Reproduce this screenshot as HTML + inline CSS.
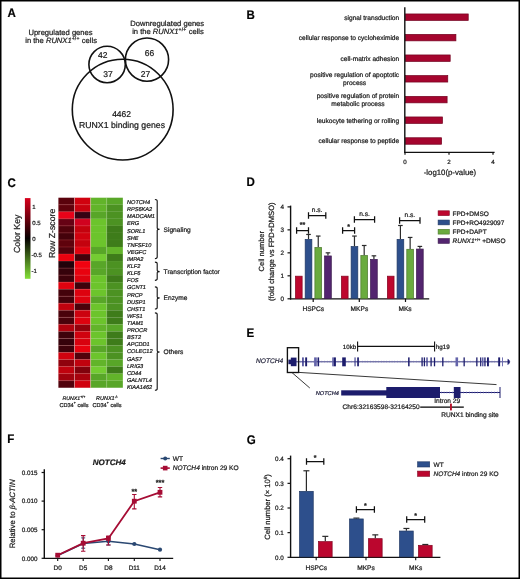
<!DOCTYPE html>
<html><head><meta charset="utf-8"><style>
html,body{margin:0;padding:0;background:#fff;}
body{width:520px;height:579px;overflow:hidden;position:relative;}
svg{position:absolute;left:0;top:0;}
svg text{font-family:"Liberation Sans",sans-serif;text-rendering:geometricPrecision;stroke:#1a1a1a;stroke-width:0.22px;}
svg{will-change:transform;}
</style></head><body>
<svg width="520" height="579" viewBox="0 0 520 579" fill="#1a1a1a">
<rect x="0" y="0" width="520" height="579" fill="#fff"/>
<text x="0.00" y="0.00" font-size="12.4" font-weight="bold" fill="#000" stroke="#000" transform="translate(7.46,17.2) scale(0.93,1)">A</text>
<text x="0.00" y="0.00" font-size="12.4" font-weight="bold" fill="#000" stroke="#000" transform="translate(246.38,18.6) scale(0.93,1)">B</text>
<text x="0.00" y="0.00" font-size="12.4" font-weight="bold" fill="#000" stroke="#000" transform="translate(7.58,186.5) scale(0.93,1)">C</text>
<text x="0.00" y="0.00" font-size="12.4" font-weight="bold" fill="#000" stroke="#000" transform="translate(246.38,186.4) scale(0.93,1)">D</text>
<text x="0.00" y="0.00" font-size="12.4" font-weight="bold" fill="#000" stroke="#000" transform="translate(246.38,337.3) scale(0.93,1)">E</text>
<text x="0.00" y="0.00" font-size="12.4" font-weight="bold" fill="#000" stroke="#000" transform="translate(7.28,443.45) scale(0.93,1)">F</text>
<text x="0.00" y="0.00" font-size="12.4" font-weight="bold" fill="#000" stroke="#000" transform="translate(246.68,443.55) scale(0.93,1)">G</text>
<text x="60.50" y="34.70" font-size="7.6" text-anchor="middle" >Upregulated genes</text>
<text x="61.10" y="43.20" font-size="7.6" text-anchor="middle" >in the <tspan font-style="italic">RUNX1</tspan><tspan font-size="5.0" dy="-3.0" letter-spacing="0.25">+/+</tspan><tspan dy="3.0"> cells</tspan></text>
<text x="167.20" y="25.90" font-size="7.6" text-anchor="middle" >Downregulated genes</text>
<text x="168.00" y="34.20" font-size="7.6" text-anchor="middle" >in the <tspan font-style="italic">RUNX1</tspan><tspan font-size="5.0" dy="-3.0" letter-spacing="0.25">+/+</tspan><tspan dy="3.0"> cells</tspan></text>
<g fill="none" stroke="#111" stroke-width="1.6">
<circle cx="107.1" cy="64.5" r="18.2"/>
<circle cx="147.0" cy="59.6" r="21.6"/>
<circle cx="122.7" cy="109.6" r="50.4"/>
</g>
<text x="102.70" y="57.80" font-size="8.5" text-anchor="middle" >42</text>
<text x="107.90" y="76.60" font-size="8.5" text-anchor="middle" >37</text>
<text x="149.60" y="56.40" font-size="8.5" text-anchor="middle" >66</text>
<text x="145.40" y="76.60" font-size="8.5" text-anchor="middle" >27</text>
<text x="121.60" y="117.30" font-size="8.5" text-anchor="middle" >4462</text>
<text x="122.00" y="127.90" font-size="8.7" text-anchor="middle" >RUNX1 binding genes</text>
<rect x="405.35" y="13.95" width="62.88" height="6.50" fill="#a5052e" stroke="#730320" stroke-width="0.7"/>
<rect x="405.35" y="34.35" width="50.56" height="6.50" fill="#a5052e" stroke="#730320" stroke-width="0.7"/>
<rect x="405.35" y="54.95" width="44.84" height="6.50" fill="#a5052e" stroke="#730320" stroke-width="0.7"/>
<rect x="405.35" y="75.55" width="42.42" height="6.50" fill="#a5052e" stroke="#730320" stroke-width="0.7"/>
<rect x="405.35" y="96.35" width="41.76" height="6.50" fill="#a5052e" stroke="#730320" stroke-width="0.7"/>
<rect x="405.35" y="116.95" width="37.14" height="6.50" fill="#a5052e" stroke="#730320" stroke-width="0.7"/>
<rect x="405.35" y="137.75" width="36.26" height="6.50" fill="#a5052e" stroke="#730320" stroke-width="0.7"/>
<text x="399.20" y="19.50" font-size="6.6" text-anchor="end" >signal transduction</text>
<text x="399.20" y="39.90" font-size="6.6" text-anchor="end" >cellular response to cycloheximide</text>
<text x="399.20" y="60.50" font-size="6.6" text-anchor="end" >cell-matrix adhesion</text>
<text x="354.62" y="77.30" font-size="6.6" text-anchor="middle" >positive regulation of apoptotic</text>
<text x="354.62" y="85.40" font-size="6.6" text-anchor="middle" >process</text>
<text x="357.93" y="98.10" font-size="6.6" text-anchor="middle" >positive regulation of protein</text>
<text x="357.93" y="106.20" font-size="6.6" text-anchor="middle" >metabolic process</text>
<text x="399.20" y="122.50" font-size="6.6" text-anchor="end" >leukocyte tethering or rolling</text>
<text x="399.20" y="143.30" font-size="6.6" text-anchor="end" >cellular response to peptide</text>
<line x1="404.80" y1="7.20" x2="404.80" y2="152.90" stroke="#111" stroke-width="1.4" />
<line x1="404.35" y1="152.30" x2="494.60" y2="152.30" stroke="#111" stroke-width="1.3" />
<line x1="405.00" y1="152.30" x2="405.00" y2="154.80" stroke="#111" stroke-width="1.2" />
<text x="405.00" y="163.60" font-size="6.2" text-anchor="middle" >0</text>
<line x1="449.00" y1="152.30" x2="449.00" y2="154.80" stroke="#111" stroke-width="1.2" />
<text x="449.00" y="163.60" font-size="6.2" text-anchor="middle" >2</text>
<line x1="493.00" y1="152.30" x2="493.00" y2="154.80" stroke="#111" stroke-width="1.2" />
<text x="493.00" y="163.60" font-size="6.2" text-anchor="middle" >4</text>
<text x="450.00" y="175.00" font-size="7.8" text-anchor="middle" >-log10(p-value)</text>
<defs><linearGradient id="ck" x1="0" y1="0" x2="0" y2="1"><stop offset="0" stop-color="#d8001c"/><stop offset="0.5" stop-color="#050000"/><stop offset="1" stop-color="#84e038"/></linearGradient></defs>
<rect x="24.90" y="198.10" width="5.60" height="80.70" fill="url(#ck)" />
<text x="32.20" y="209.40" font-size="6.0" >1</text>
<text x="32.20" y="224.70" font-size="6.0" >0.5</text>
<text x="32.20" y="240.70" font-size="6.0" >0</text>
<text x="31.40" y="256.50" font-size="6.0" >-0.5</text>
<text x="31.40" y="272.60" font-size="6.0" >-1</text>
<text x="0.00" y="0.00" font-size="8.8" text-anchor="middle" transform="translate(19.9,233.8) rotate(-90)">Color Key</text>
<text x="0.00" y="0.00" font-size="8.7" text-anchor="middle" transform="translate(54.9,233.4) rotate(-90)">Row Z-score</text>
<rect x="58.40" y="197.70" width="16.15" height="7.09" fill="#5a020c" />
<rect x="74.50" y="197.70" width="16.15" height="7.09" fill="#d0020f" />
<rect x="90.60" y="197.70" width="16.15" height="7.09" fill="#62b42a" />
<rect x="106.70" y="197.70" width="16.15" height="7.09" fill="#58a628" />
<rect x="58.40" y="204.74" width="16.15" height="7.09" fill="#5f020c" />
<rect x="74.50" y="204.74" width="16.15" height="7.09" fill="#c8020f" />
<rect x="90.60" y="204.74" width="16.15" height="7.09" fill="#62b42a" />
<rect x="106.70" y="204.74" width="16.15" height="7.09" fill="#4c9222" />
<rect x="58.40" y="211.77" width="16.15" height="7.09" fill="#e80219" />
<rect x="74.50" y="211.77" width="16.15" height="7.09" fill="#360213" />
<rect x="90.60" y="211.77" width="16.15" height="7.09" fill="#58a628" />
<rect x="106.70" y="211.77" width="16.15" height="7.09" fill="#4c9222" />
<rect x="58.40" y="218.81" width="16.15" height="7.09" fill="#660214" />
<rect x="74.50" y="218.81" width="16.15" height="7.09" fill="#d0021f" />
<rect x="90.60" y="218.81" width="16.15" height="7.09" fill="#6cc42c" />
<rect x="106.70" y="218.81" width="16.15" height="7.09" fill="#4c9222" />
<rect x="58.40" y="225.85" width="16.15" height="7.09" fill="#51020c" />
<rect x="74.50" y="225.85" width="16.15" height="7.09" fill="#c4020e" />
<rect x="90.60" y="225.85" width="16.15" height="7.09" fill="#6cc42c" />
<rect x="106.70" y="225.85" width="16.15" height="7.09" fill="#3e7c1a" />
<rect x="58.40" y="232.89" width="16.15" height="7.09" fill="#44020b" />
<rect x="74.50" y="232.89" width="16.15" height="7.09" fill="#d0020f" />
<rect x="90.60" y="232.89" width="16.15" height="7.09" fill="#6cc42c" />
<rect x="106.70" y="232.89" width="16.15" height="7.09" fill="#3e7c1a" />
<rect x="58.40" y="239.92" width="16.15" height="7.09" fill="#5f020c" />
<rect x="74.50" y="239.92" width="16.15" height="7.09" fill="#c4020e" />
<rect x="90.60" y="239.92" width="16.15" height="7.09" fill="#6cc42c" />
<rect x="106.70" y="239.92" width="16.15" height="7.09" fill="#3e7c1a" />
<rect x="58.40" y="246.96" width="16.15" height="7.09" fill="#51020c" />
<rect x="74.50" y="246.96" width="16.15" height="7.09" fill="#e0020f" />
<rect x="90.60" y="246.96" width="16.15" height="7.09" fill="#58a628" />
<rect x="106.70" y="246.96" width="16.15" height="7.09" fill="#62b42a" />
<rect x="58.40" y="254.00" width="16.15" height="7.09" fill="#e8020f" />
<rect x="74.50" y="254.00" width="16.15" height="7.09" fill="#44020b" />
<rect x="90.60" y="254.00" width="16.15" height="7.09" fill="#74cc32" />
<rect x="106.70" y="254.00" width="16.15" height="7.09" fill="#3e7c1a" />
<rect x="58.40" y="261.03" width="16.15" height="7.09" fill="#22020a" />
<rect x="74.50" y="261.03" width="16.15" height="7.09" fill="#f00210" />
<rect x="90.60" y="261.03" width="16.15" height="7.09" fill="#58a628" />
<rect x="106.70" y="261.03" width="16.15" height="7.09" fill="#4c9222" />
<rect x="58.40" y="268.07" width="16.15" height="7.09" fill="#36020b" />
<rect x="74.50" y="268.07" width="16.15" height="7.09" fill="#e8020f" />
<rect x="90.60" y="268.07" width="16.15" height="7.09" fill="#58a628" />
<rect x="106.70" y="268.07" width="16.15" height="7.09" fill="#4c9222" />
<rect x="58.40" y="275.11" width="16.15" height="7.09" fill="#3e020b" />
<rect x="74.50" y="275.11" width="16.15" height="7.09" fill="#dd020f" />
<rect x="90.60" y="275.11" width="16.15" height="7.09" fill="#6cc42c" />
<rect x="106.70" y="275.11" width="16.15" height="7.09" fill="#3e7c1a" />
<rect x="58.40" y="282.14" width="16.15" height="7.09" fill="#e0020f" />
<rect x="74.50" y="282.14" width="16.15" height="7.09" fill="#3e020b" />
<rect x="90.60" y="282.14" width="16.15" height="7.09" fill="#6cc42c" />
<rect x="106.70" y="282.14" width="16.15" height="7.09" fill="#4c9222" />
<rect x="58.40" y="289.18" width="16.15" height="7.09" fill="#44020b" />
<rect x="74.50" y="289.18" width="16.15" height="7.09" fill="#dd020f" />
<rect x="90.60" y="289.18" width="16.15" height="7.09" fill="#6cc42c" />
<rect x="106.70" y="289.18" width="16.15" height="7.09" fill="#4c9222" />
<rect x="58.40" y="296.22" width="16.15" height="7.09" fill="#44020b" />
<rect x="74.50" y="296.22" width="16.15" height="7.09" fill="#dd020f" />
<rect x="90.60" y="296.22" width="16.15" height="7.09" fill="#58a628" />
<rect x="106.70" y="296.22" width="16.15" height="7.09" fill="#4c9222" />
<rect x="58.40" y="303.26" width="16.15" height="7.09" fill="#c0020e" />
<rect x="74.50" y="303.26" width="16.15" height="7.09" fill="#4a020b" />
<rect x="90.60" y="303.26" width="16.15" height="7.09" fill="#6cc42c" />
<rect x="106.70" y="303.26" width="16.15" height="7.09" fill="#4c9222" />
<rect x="58.40" y="310.29" width="16.15" height="7.09" fill="#4a020b" />
<rect x="74.50" y="310.29" width="16.15" height="7.09" fill="#cc020f" />
<rect x="90.60" y="310.29" width="16.15" height="7.09" fill="#6cc42c" />
<rect x="106.70" y="310.29" width="16.15" height="7.09" fill="#3e7c1a" />
<rect x="58.40" y="317.33" width="16.15" height="7.09" fill="#4a020b" />
<rect x="74.50" y="317.33" width="16.15" height="7.09" fill="#dd020f" />
<rect x="90.60" y="317.33" width="16.15" height="7.09" fill="#6cc42c" />
<rect x="106.70" y="317.33" width="16.15" height="7.09" fill="#3e7c1a" />
<rect x="58.40" y="324.37" width="16.15" height="7.09" fill="#b0020e" />
<rect x="74.50" y="324.37" width="16.15" height="7.09" fill="#90020d" />
<rect x="90.60" y="324.37" width="16.15" height="7.09" fill="#62b42a" />
<rect x="106.70" y="324.37" width="16.15" height="7.09" fill="#58a628" />
<rect x="58.40" y="331.40" width="16.15" height="7.09" fill="#3e020b" />
<rect x="74.50" y="331.40" width="16.15" height="7.09" fill="#d0020f" />
<rect x="90.60" y="331.40" width="16.15" height="7.09" fill="#6cc42c" />
<rect x="106.70" y="331.40" width="16.15" height="7.09" fill="#3e7c1a" />
<rect x="58.40" y="338.44" width="16.15" height="7.09" fill="#36020b" />
<rect x="74.50" y="338.44" width="16.15" height="7.09" fill="#d8020f" />
<rect x="90.60" y="338.44" width="16.15" height="7.09" fill="#6cc42c" />
<rect x="106.70" y="338.44" width="16.15" height="7.09" fill="#3e7c1a" />
<rect x="58.40" y="345.48" width="16.15" height="7.09" fill="#3e020b" />
<rect x="74.50" y="345.48" width="16.15" height="7.09" fill="#e8020f" />
<rect x="90.60" y="345.48" width="16.15" height="7.09" fill="#58a628" />
<rect x="106.70" y="345.48" width="16.15" height="7.09" fill="#4c9222" />
<rect x="58.40" y="352.51" width="16.15" height="7.09" fill="#d0020f" />
<rect x="74.50" y="352.51" width="16.15" height="7.09" fill="#51020c" />
<rect x="90.60" y="352.51" width="16.15" height="7.09" fill="#6cc42c" />
<rect x="106.70" y="352.51" width="16.15" height="7.09" fill="#4c9222" />
<rect x="58.40" y="359.55" width="16.15" height="7.09" fill="#90020d" />
<rect x="74.50" y="359.55" width="16.15" height="7.09" fill="#c0020e" />
<rect x="90.60" y="359.55" width="16.15" height="7.09" fill="#62b42a" />
<rect x="106.70" y="359.55" width="16.15" height="7.09" fill="#58a628" />
<rect x="58.40" y="366.59" width="16.15" height="7.09" fill="#c0020e" />
<rect x="74.50" y="366.59" width="16.15" height="7.09" fill="#80020d" />
<rect x="90.60" y="366.59" width="16.15" height="7.09" fill="#74cc32" />
<rect x="106.70" y="366.59" width="16.15" height="7.09" fill="#3e7c1a" />
<rect x="58.40" y="373.63" width="16.15" height="7.09" fill="#a0020e" />
<rect x="74.50" y="373.63" width="16.15" height="7.09" fill="#a8020e" />
<rect x="90.60" y="373.63" width="16.15" height="7.09" fill="#58a628" />
<rect x="106.70" y="373.63" width="16.15" height="7.09" fill="#62b42a" />
<rect x="58.40" y="380.66" width="16.15" height="7.09" fill="#51020c" />
<rect x="74.50" y="380.66" width="16.15" height="7.09" fill="#d0020f" />
<rect x="90.60" y="380.66" width="16.15" height="7.09" fill="#58a628" />
<rect x="106.70" y="380.66" width="16.15" height="7.09" fill="#58a628" />
<line x1="58.40" y1="204.74" x2="90.60" y2="204.74" stroke="#ff8080" stroke-width="0.6" stroke-opacity="0.36"/>
<line x1="90.60" y1="204.74" x2="122.80" y2="204.74" stroke="#ffffff" stroke-width="0.5" stroke-opacity="0.04"/>
<line x1="58.40" y1="211.77" x2="90.60" y2="211.77" stroke="#ff8080" stroke-width="0.6" stroke-opacity="0.36"/>
<line x1="90.60" y1="211.77" x2="122.80" y2="211.77" stroke="#ffffff" stroke-width="0.5" stroke-opacity="0.04"/>
<line x1="58.40" y1="218.81" x2="90.60" y2="218.81" stroke="#ff8080" stroke-width="0.6" stroke-opacity="0.36"/>
<line x1="90.60" y1="218.81" x2="122.80" y2="218.81" stroke="#ffffff" stroke-width="0.5" stroke-opacity="0.04"/>
<line x1="58.40" y1="225.85" x2="90.60" y2="225.85" stroke="#ff8080" stroke-width="0.6" stroke-opacity="0.36"/>
<line x1="90.60" y1="225.85" x2="122.80" y2="225.85" stroke="#ffffff" stroke-width="0.5" stroke-opacity="0.04"/>
<line x1="58.40" y1="232.89" x2="90.60" y2="232.89" stroke="#ff8080" stroke-width="0.6" stroke-opacity="0.36"/>
<line x1="90.60" y1="232.89" x2="122.80" y2="232.89" stroke="#ffffff" stroke-width="0.5" stroke-opacity="0.04"/>
<line x1="58.40" y1="239.92" x2="90.60" y2="239.92" stroke="#ff8080" stroke-width="0.6" stroke-opacity="0.36"/>
<line x1="90.60" y1="239.92" x2="122.80" y2="239.92" stroke="#ffffff" stroke-width="0.5" stroke-opacity="0.04"/>
<line x1="58.40" y1="246.96" x2="90.60" y2="246.96" stroke="#ff8080" stroke-width="0.6" stroke-opacity="0.36"/>
<line x1="90.60" y1="246.96" x2="122.80" y2="246.96" stroke="#ffffff" stroke-width="0.5" stroke-opacity="0.04"/>
<line x1="58.40" y1="254.00" x2="90.60" y2="254.00" stroke="#ff8080" stroke-width="0.6" stroke-opacity="0.36"/>
<line x1="90.60" y1="254.00" x2="122.80" y2="254.00" stroke="#ffffff" stroke-width="0.5" stroke-opacity="0.04"/>
<line x1="58.40" y1="261.03" x2="90.60" y2="261.03" stroke="#ff8080" stroke-width="0.6" stroke-opacity="0.36"/>
<line x1="90.60" y1="261.03" x2="122.80" y2="261.03" stroke="#ffffff" stroke-width="0.5" stroke-opacity="0.04"/>
<line x1="58.40" y1="268.07" x2="90.60" y2="268.07" stroke="#ff8080" stroke-width="0.6" stroke-opacity="0.36"/>
<line x1="90.60" y1="268.07" x2="122.80" y2="268.07" stroke="#ffffff" stroke-width="0.5" stroke-opacity="0.04"/>
<line x1="58.40" y1="275.11" x2="90.60" y2="275.11" stroke="#ff8080" stroke-width="0.6" stroke-opacity="0.36"/>
<line x1="90.60" y1="275.11" x2="122.80" y2="275.11" stroke="#ffffff" stroke-width="0.5" stroke-opacity="0.04"/>
<line x1="58.40" y1="282.14" x2="90.60" y2="282.14" stroke="#ff8080" stroke-width="0.6" stroke-opacity="0.36"/>
<line x1="90.60" y1="282.14" x2="122.80" y2="282.14" stroke="#ffffff" stroke-width="0.5" stroke-opacity="0.04"/>
<line x1="58.40" y1="289.18" x2="90.60" y2="289.18" stroke="#ff8080" stroke-width="0.6" stroke-opacity="0.36"/>
<line x1="90.60" y1="289.18" x2="122.80" y2="289.18" stroke="#ffffff" stroke-width="0.5" stroke-opacity="0.04"/>
<line x1="58.40" y1="296.22" x2="90.60" y2="296.22" stroke="#ff8080" stroke-width="0.6" stroke-opacity="0.36"/>
<line x1="90.60" y1="296.22" x2="122.80" y2="296.22" stroke="#ffffff" stroke-width="0.5" stroke-opacity="0.04"/>
<line x1="58.40" y1="303.26" x2="90.60" y2="303.26" stroke="#ff8080" stroke-width="0.6" stroke-opacity="0.36"/>
<line x1="90.60" y1="303.26" x2="122.80" y2="303.26" stroke="#ffffff" stroke-width="0.5" stroke-opacity="0.04"/>
<line x1="58.40" y1="310.29" x2="90.60" y2="310.29" stroke="#ff8080" stroke-width="0.6" stroke-opacity="0.36"/>
<line x1="90.60" y1="310.29" x2="122.80" y2="310.29" stroke="#ffffff" stroke-width="0.5" stroke-opacity="0.04"/>
<line x1="58.40" y1="317.33" x2="90.60" y2="317.33" stroke="#ff8080" stroke-width="0.6" stroke-opacity="0.36"/>
<line x1="90.60" y1="317.33" x2="122.80" y2="317.33" stroke="#ffffff" stroke-width="0.5" stroke-opacity="0.04"/>
<line x1="58.40" y1="324.37" x2="90.60" y2="324.37" stroke="#ff8080" stroke-width="0.6" stroke-opacity="0.36"/>
<line x1="90.60" y1="324.37" x2="122.80" y2="324.37" stroke="#ffffff" stroke-width="0.5" stroke-opacity="0.04"/>
<line x1="58.40" y1="331.40" x2="90.60" y2="331.40" stroke="#ff8080" stroke-width="0.6" stroke-opacity="0.36"/>
<line x1="90.60" y1="331.40" x2="122.80" y2="331.40" stroke="#ffffff" stroke-width="0.5" stroke-opacity="0.04"/>
<line x1="58.40" y1="338.44" x2="90.60" y2="338.44" stroke="#ff8080" stroke-width="0.6" stroke-opacity="0.36"/>
<line x1="90.60" y1="338.44" x2="122.80" y2="338.44" stroke="#ffffff" stroke-width="0.5" stroke-opacity="0.04"/>
<line x1="58.40" y1="345.48" x2="90.60" y2="345.48" stroke="#ff8080" stroke-width="0.6" stroke-opacity="0.36"/>
<line x1="90.60" y1="345.48" x2="122.80" y2="345.48" stroke="#ffffff" stroke-width="0.5" stroke-opacity="0.04"/>
<line x1="58.40" y1="352.51" x2="90.60" y2="352.51" stroke="#ff8080" stroke-width="0.6" stroke-opacity="0.36"/>
<line x1="90.60" y1="352.51" x2="122.80" y2="352.51" stroke="#ffffff" stroke-width="0.5" stroke-opacity="0.04"/>
<line x1="58.40" y1="359.55" x2="90.60" y2="359.55" stroke="#ff8080" stroke-width="0.6" stroke-opacity="0.36"/>
<line x1="90.60" y1="359.55" x2="122.80" y2="359.55" stroke="#ffffff" stroke-width="0.5" stroke-opacity="0.04"/>
<line x1="58.40" y1="366.59" x2="90.60" y2="366.59" stroke="#ff8080" stroke-width="0.6" stroke-opacity="0.36"/>
<line x1="90.60" y1="366.59" x2="122.80" y2="366.59" stroke="#ffffff" stroke-width="0.5" stroke-opacity="0.04"/>
<line x1="58.40" y1="373.63" x2="90.60" y2="373.63" stroke="#ff8080" stroke-width="0.6" stroke-opacity="0.36"/>
<line x1="90.60" y1="373.63" x2="122.80" y2="373.63" stroke="#ffffff" stroke-width="0.5" stroke-opacity="0.04"/>
<line x1="58.40" y1="380.66" x2="90.60" y2="380.66" stroke="#ff8080" stroke-width="0.6" stroke-opacity="0.36"/>
<line x1="90.60" y1="380.66" x2="122.80" y2="380.66" stroke="#ffffff" stroke-width="0.5" stroke-opacity="0.04"/>
<line x1="74.50" y1="197.70" x2="74.50" y2="387.70" stroke="#ffffff" stroke-width="0.7" stroke-opacity="0.5"/>
<line x1="90.60" y1="197.70" x2="90.60" y2="387.70" stroke="#ffffff" stroke-width="0.7" stroke-opacity="0.5"/>
<line x1="106.70" y1="197.70" x2="106.70" y2="387.70" stroke="#ffffff" stroke-width="0.7" stroke-opacity="0.25"/>
<text x="127.00" y="204.10" font-size="5.6" font-style="italic" >NOTCH4</text>
<text x="127.00" y="211.21" font-size="5.6" font-style="italic" >RPS6KA2</text>
<text x="127.00" y="218.32" font-size="5.6" font-style="italic" >MADCAM1</text>
<text x="127.00" y="225.43" font-size="5.6" font-style="italic" >ERG</text>
<text x="127.00" y="232.54" font-size="5.6" font-style="italic" >SORL1</text>
<text x="127.00" y="239.65" font-size="5.6" font-style="italic" >SHE</text>
<text x="127.00" y="246.76" font-size="5.6" font-style="italic" >TNFSF10</text>
<text x="127.00" y="253.87" font-size="5.6" font-style="italic" >VEGFC</text>
<text x="127.00" y="260.98" font-size="5.6" font-style="italic" >IMPA2</text>
<text x="127.00" y="268.09" font-size="5.6" font-style="italic" >KLF2</text>
<text x="127.00" y="275.20" font-size="5.6" font-style="italic" >KLF6</text>
<text x="127.00" y="282.31" font-size="5.6" font-style="italic" >FOS</text>
<text x="127.00" y="289.42" font-size="5.6" font-style="italic" >GCNT1</text>
<text x="127.00" y="296.53" font-size="5.6" font-style="italic" >PRCP</text>
<text x="127.00" y="303.64" font-size="5.6" font-style="italic" >DUSP1</text>
<text x="127.00" y="310.75" font-size="5.6" font-style="italic" >CHST1</text>
<text x="127.00" y="317.86" font-size="5.6" font-style="italic" >WFS1</text>
<text x="127.00" y="324.97" font-size="5.6" font-style="italic" >TIAM1</text>
<text x="127.00" y="332.08" font-size="5.6" font-style="italic" >PROCR</text>
<text x="127.00" y="339.19" font-size="5.6" font-style="italic" >BST2</text>
<text x="127.00" y="346.30" font-size="5.6" font-style="italic" >APCDD1</text>
<text x="127.00" y="353.41" font-size="5.6" font-style="italic" >COLEC12</text>
<text x="127.00" y="360.52" font-size="5.6" font-style="italic" >GAS7</text>
<text x="127.00" y="367.63" font-size="5.6" font-style="italic" >LRIG3</text>
<text x="127.00" y="374.74" font-size="5.6" font-style="italic" >CD44</text>
<text x="127.00" y="381.85" font-size="5.6" font-style="italic" >GALNTL4</text>
<text x="127.00" y="388.96" font-size="5.6" font-style="italic" >KIAA1462</text>
<path d="M154.9 199.50 Q157.2 199.50 157.2 201.10 V228.20 Q157.2 229.20 159.6 229.20 Q157.2 229.20 157.2 230.20 V257.10 Q157.2 258.70 154.9 258.70" fill="none" stroke="#111" stroke-width="1.1"/>
<text x="163.60" y="231.50" font-size="6.6" >Signaling</text>
<path d="M154.9 262.10 Q157.2 262.10 157.2 263.70 V270.60 Q157.2 271.60 159.6 271.60 Q157.2 271.60 157.2 272.60 V278.80 Q157.2 280.40 154.9 280.40" fill="none" stroke="#111" stroke-width="1.1"/>
<text x="163.60" y="273.90" font-size="6.6" >Transcription factor</text>
<path d="M154.9 286.90 Q157.2 286.90 157.2 288.50 V296.90 Q157.2 297.90 159.6 297.90 Q157.2 297.90 157.2 298.90 V307.40 Q157.2 309.00 154.9 309.00" fill="none" stroke="#111" stroke-width="1.1"/>
<text x="163.60" y="300.20" font-size="6.6" >Enzyme</text>
<path d="M154.9 312.90 Q157.2 312.90 157.2 314.50 V351.00 Q157.2 352.00 159.6 352.00 Q157.2 352.00 157.2 353.00 V388.70 Q157.2 390.30 154.9 390.30" fill="none" stroke="#111" stroke-width="1.1"/>
<text x="163.60" y="354.30" font-size="6.6" >Others</text>
<text x="74.00" y="400.40" font-size="5.2" text-anchor="middle" ><tspan font-style="italic">RUNX1</tspan><tspan font-size="3.6" dy="-2.4">+/+</tspan></text>
<text x="74.00" y="406.60" font-size="5.6" text-anchor="middle" >CD34<tspan font-size="3.6" dy="-2.4">+</tspan><tspan dy="2.4"> cells</tspan></text>
<text x="107.00" y="400.40" font-size="5.5" text-anchor="middle" ><tspan font-style="italic">RUNX1</tspan><tspan font-size="3.6" dy="-2.4">-/-</tspan></text>
<text x="107.00" y="406.60" font-size="5.6" text-anchor="middle" >CD34<tspan font-size="3.6" dy="-2.4">+</tspan><tspan dy="2.4"> cells</tspan></text>
<line x1="290.60" y1="205.60" x2="290.60" y2="299.50" stroke="#111" stroke-width="1.4" />
<line x1="290.00" y1="298.80" x2="429.20" y2="298.80" stroke="#111" stroke-width="1.2" />
<line x1="287.50" y1="298.80" x2="290.60" y2="298.80" stroke="#111" stroke-width="1.2" />
<text x="284.00" y="301.00" font-size="6.3" text-anchor="end" >0</text>
<line x1="287.50" y1="275.82" x2="290.60" y2="275.82" stroke="#111" stroke-width="1.2" />
<text x="284.00" y="278.02" font-size="6.3" text-anchor="end" >1</text>
<line x1="287.50" y1="252.84" x2="290.60" y2="252.84" stroke="#111" stroke-width="1.2" />
<text x="284.00" y="255.04" font-size="6.3" text-anchor="end" >2</text>
<line x1="287.50" y1="229.86" x2="290.60" y2="229.86" stroke="#111" stroke-width="1.2" />
<text x="284.00" y="232.06" font-size="6.3" text-anchor="end" >3</text>
<line x1="287.50" y1="206.88" x2="290.60" y2="206.88" stroke="#111" stroke-width="1.2" />
<text x="284.00" y="209.08" font-size="6.3" text-anchor="end" >4</text>
<line x1="313.20" y1="298.80" x2="313.20" y2="302.00" stroke="#111" stroke-width="1.2" />
<line x1="359.30" y1="298.80" x2="359.30" y2="302.00" stroke="#111" stroke-width="1.2" />
<line x1="405.50" y1="298.80" x2="405.50" y2="302.00" stroke="#111" stroke-width="1.2" />
<text x="313.20" y="311.00" font-size="6.6" text-anchor="middle" >HSPCs</text>
<text x="359.40" y="311.00" font-size="6.6" text-anchor="middle" >MKPs</text>
<text x="405.00" y="311.00" font-size="6.6" text-anchor="middle" >MKs</text>
<rect x="295.45" y="276.17" width="6.70" height="22.28" fill="#bd072e" stroke="#840420" stroke-width="0.7"/>
<line x1="308.52" y1="239.05" x2="308.52" y2="234.46" stroke="#2a2a2a" stroke-width="1.2" />
<line x1="306.22" y1="234.46" x2="310.82" y2="234.46" stroke="#2a2a2a" stroke-width="1.2" />
<rect x="305.17" y="239.40" width="6.70" height="59.05" fill="#2d4f8c" stroke="#1f3762" stroke-width="0.7"/>
<line x1="318.24" y1="247.10" x2="318.24" y2="236.06" stroke="#2a2a2a" stroke-width="1.2" />
<line x1="315.94" y1="236.06" x2="320.54" y2="236.06" stroke="#2a2a2a" stroke-width="1.2" />
<rect x="314.89" y="247.45" width="6.70" height="51.00" fill="#6aab3e" stroke="#4a772b" stroke-width="0.7"/>
<line x1="327.96" y1="255.60" x2="327.96" y2="252.84" stroke="#2a2a2a" stroke-width="1.2" />
<line x1="325.66" y1="252.84" x2="330.26" y2="252.84" stroke="#2a2a2a" stroke-width="1.2" />
<rect x="324.61" y="255.95" width="6.70" height="42.50" fill="#53256f" stroke="#3a194d" stroke-width="0.7"/>
<rect x="341.40" y="276.17" width="6.70" height="22.28" fill="#bd072e" stroke="#840420" stroke-width="0.7"/>
<line x1="354.47" y1="246.18" x2="354.47" y2="236.06" stroke="#2a2a2a" stroke-width="1.2" />
<line x1="352.17" y1="236.06" x2="356.77" y2="236.06" stroke="#2a2a2a" stroke-width="1.2" />
<rect x="351.12" y="246.53" width="6.70" height="51.92" fill="#2d4f8c" stroke="#1f3762" stroke-width="0.7"/>
<line x1="364.19" y1="255.14" x2="364.19" y2="245.49" stroke="#2a2a2a" stroke-width="1.2" />
<line x1="361.89" y1="245.49" x2="366.49" y2="245.49" stroke="#2a2a2a" stroke-width="1.2" />
<rect x="360.84" y="255.49" width="6.70" height="42.96" fill="#6aab3e" stroke="#4a772b" stroke-width="0.7"/>
<line x1="373.91" y1="259.04" x2="373.91" y2="255.83" stroke="#2a2a2a" stroke-width="1.2" />
<line x1="371.61" y1="255.83" x2="376.21" y2="255.83" stroke="#2a2a2a" stroke-width="1.2" />
<rect x="370.56" y="259.39" width="6.70" height="39.06" fill="#53256f" stroke="#3a194d" stroke-width="0.7"/>
<rect x="387.35" y="276.17" width="6.70" height="22.28" fill="#bd072e" stroke="#840420" stroke-width="0.7"/>
<line x1="400.42" y1="239.05" x2="400.42" y2="225.49" stroke="#2a2a2a" stroke-width="1.2" />
<line x1="398.12" y1="225.49" x2="402.72" y2="225.49" stroke="#2a2a2a" stroke-width="1.2" />
<rect x="397.07" y="239.40" width="6.70" height="59.05" fill="#2d4f8c" stroke="#1f3762" stroke-width="0.7"/>
<line x1="410.14" y1="248.93" x2="410.14" y2="237.44" stroke="#2a2a2a" stroke-width="1.2" />
<line x1="407.84" y1="237.44" x2="412.44" y2="237.44" stroke="#2a2a2a" stroke-width="1.2" />
<rect x="406.79" y="249.28" width="6.70" height="49.17" fill="#6aab3e" stroke="#4a772b" stroke-width="0.7"/>
<line x1="419.86" y1="248.70" x2="419.86" y2="246.41" stroke="#2a2a2a" stroke-width="1.2" />
<line x1="417.56" y1="246.41" x2="422.16" y2="246.41" stroke="#2a2a2a" stroke-width="1.2" />
<rect x="416.51" y="249.05" width="6.70" height="49.40" fill="#53256f" stroke="#3a194d" stroke-width="0.7"/>
<path d="M296.60 227.20 V233.80 M296.60 230.50 H308.50 M308.50 227.20 V233.80" fill="none" stroke="#111" stroke-width="1.25"/>
<text x="302.55" y="227.20" font-size="7.0" text-anchor="middle" font-weight="bold" >**</text>
<path d="M308.50 212.20 V218.80 M308.50 215.50 H325.80 M325.80 212.20 V218.80" fill="none" stroke="#111" stroke-width="1.25"/>
<text x="317.15" y="211.60" font-size="6.6" text-anchor="middle" >n.s.</text>
<path d="M342.60 227.20 V233.80 M342.60 230.50 H354.60 M354.60 227.20 V233.80" fill="none" stroke="#111" stroke-width="1.25"/>
<text x="348.60" y="228.80" font-size="7.0" text-anchor="middle" font-weight="bold" >*</text>
<path d="M354.40 216.20 V222.80 M354.40 219.50 H374.60 M374.60 216.20 V222.80" fill="none" stroke="#111" stroke-width="1.25"/>
<text x="364.50" y="215.50" font-size="6.6" text-anchor="middle" >n.s.</text>
<path d="M399.60 217.20 V223.80 M399.60 220.50 H420.00 M420.00 217.20 V223.80" fill="none" stroke="#111" stroke-width="1.25"/>
<text x="409.80" y="216.60" font-size="6.6" text-anchor="middle" >n.s.</text>
<text x="0.00" y="0.00" font-size="7.5" text-anchor="middle" transform="translate(264.4,251.2) rotate(-90)">Cell number</text>
<text x="0.00" y="0.00" font-size="7.6" text-anchor="middle" transform="translate(274.4,251.7) rotate(-90)">(fold change vs FPD+DMSO)</text>
<rect x="438.10" y="210.80" width="11.20" height="4.80" fill="#bd072e" stroke="#840420" stroke-width="0.6"/>
<text x="452.50" y="215.50" font-size="6.5" >FPD+DMSO</text>
<rect x="438.10" y="220.05" width="11.20" height="4.80" fill="#2d4f8c" stroke="#1f3762" stroke-width="0.6"/>
<text x="452.50" y="224.75" font-size="6.5" >FPD+RO4929097</text>
<rect x="438.10" y="229.30" width="11.20" height="4.80" fill="#6aab3e" stroke="#4a772b" stroke-width="0.6"/>
<text x="452.50" y="234.00" font-size="6.5" >FPD+DAPT</text>
<rect x="438.10" y="238.55" width="11.20" height="4.80" fill="#53256f" stroke="#3a194d" stroke-width="0.6"/>
<text x="452.50" y="243.25" font-size="6.5" ><tspan font-style="italic">RUNX1</tspan><tspan font-size="4" dy="-2.6">+/+</tspan><tspan dy="2.6"> +DMSO</tspan></text>
<text x="256.00" y="363.00" font-size="6.6" font-style="italic" fill="#383868" stroke="#383868" >NOTCH4</text>
<line x1="289.00" y1="361.80" x2="508.50" y2="361.80" stroke="#2a2a78" stroke-width="0.9" />
<line x1="300" y1="361.8" x2="508" y2="361.8" stroke="#6a6ab8" stroke-width="2.6" stroke-dasharray="0.5 2.2" stroke-opacity="0.45"/>
<rect x="302.20" y="357.40" width="1.50" height="8.90" fill="#34348a" />
<rect x="305.20" y="357.40" width="1.90" height="8.90" fill="#1c1c6c" />
<rect x="314.10" y="357.40" width="2.70" height="8.90" fill="#6464aa" />
<rect x="317.50" y="357.40" width="1.60" height="8.90" fill="#1c1c6c" />
<rect x="332.20" y="357.40" width="1.50" height="8.90" fill="#6464aa" />
<rect x="333.70" y="357.40" width="2.20" height="8.90" fill="#1c1c6c" />
<rect x="342.20" y="357.40" width="3.60" height="8.90" fill="#1c1c6c" />
<rect x="354.50" y="357.40" width="1.10" height="8.90" fill="#3a3a8c" />
<rect x="357.20" y="357.40" width="1.70" height="8.90" fill="#1c1c6c" />
<rect x="408.10" y="357.40" width="1.50" height="8.90" fill="#1c1c6c" />
<rect x="421.45" y="357.40" width="1.30" height="8.90" fill="#1c1c6c" />
<rect x="423.75" y="357.40" width="1.30" height="8.90" fill="#1c1c6c" />
<rect x="426.35" y="357.40" width="1.30" height="8.90" fill="#3a3a8c" />
<rect x="430.45" y="357.40" width="1.30" height="8.90" fill="#1c1c6c" />
<rect x="433.85" y="357.40" width="1.30" height="8.90" fill="#1c1c6c" />
<rect x="442.15" y="357.40" width="1.30" height="8.90" fill="#1c1c6c" />
<rect x="455.50" y="357.40" width="2.60" height="8.90" fill="#6464aa" />
<rect x="463.50" y="357.40" width="1.30" height="8.90" fill="#1c1c6c" />
<rect x="476.20" y="357.40" width="1.30" height="8.90" fill="#1c1c6c" />
<rect x="480.10" y="357.40" width="1.20" height="8.90" fill="#1c1c6c" />
<rect x="482.00" y="357.40" width="1.50" height="8.90" fill="#6464aa" />
<rect x="484.30" y="357.40" width="1.30" height="8.90" fill="#1c1c6c" />
<rect x="487.00" y="357.40" width="1.90" height="8.90" fill="#1c1c6c" />
<rect x="498.20" y="357.40" width="1.90" height="8.90" fill="#1c1c6c" />
<rect x="502.00" y="357.40" width="0.90" height="8.90" fill="#6464aa" />
<rect x="290.80" y="357.60" width="5.70" height="8.60" fill="#1c1c6c" />
<rect x="288.40" y="359.60" width="2.60" height="4.60" fill="#1c1c6c" />
<path d="M507.9 359.2 Q511.6 361.8 507.9 364.6 Z" fill="#1c1c6c" stroke="#1c1c6c" stroke-width="0.6"/>
<rect x="287.4" y="347.7" width="11.2" height="24.8" fill="none" stroke="#111" stroke-width="1.35"/>
<path d="M357.6 341.5 V351.5 M357.6 346.4 H434.6 M434.6 341.5 V351.5" fill="none" stroke="#111" stroke-width="1.1"/>
<text x="356.20" y="348.60" font-size="6.2" text-anchor="end" >10kb</text>
<text x="435.70" y="348.90" font-size="6.3" >hg19</text>
<line x1="292.00" y1="372.60" x2="309.80" y2="388.00" stroke="#222" stroke-width="0.9" />
<line x1="298.70" y1="372.40" x2="496.50" y2="384.60" stroke="#222" stroke-width="0.9" />
<text x="315.80" y="395.30" font-size="5.6" font-style="italic" fill="#2a2a70" stroke="#2a2a70" >NOTCH4</text>
<rect x="341.20" y="390.30" width="46.00" height="5.20" fill="#1c1c6c" />
<rect x="386.30" y="387.00" width="53.70" height="11.00" fill="#1c1c6c" />
<line x1="440.00" y1="392.50" x2="500.00" y2="392.50" stroke="#1c1c6c" stroke-width="1.0" />
<line x1="441" y1="392.5" x2="499" y2="392.5" stroke="#8a8ad0" stroke-width="2.4" stroke-dasharray="0.6 2.2" stroke-opacity="0.7"/>
<line x1="500.00" y1="387.00" x2="500.00" y2="398.00" stroke="#1c1c6c" stroke-width="1.0" />
<rect x="453.80" y="387.00" width="6.70" height="11.00" fill="#1c1c6c" />
<text x="447.20" y="403.40" font-size="6.6" text-anchor="middle" >Intron 29</text>
<text x="419.60" y="409.30" font-size="6.6" text-anchor="end" >Chr6:32163598-32164250</text>
<line x1="420.20" y1="407.20" x2="463.80" y2="407.20" stroke="#000" stroke-width="1.2" />
<rect x="450.00" y="403.60" width="1.90" height="6.80" fill="#b8102a" />
<text x="470.00" y="416.80" font-size="6.6" text-anchor="middle" >RUNX1 binding site</text>
<line x1="44.30" y1="469.30" x2="44.30" y2="559.00" stroke="#111" stroke-width="1.4" />
<line x1="43.70" y1="558.30" x2="173.20" y2="558.30" stroke="#111" stroke-width="1.2" />
<line x1="41.60" y1="558.30" x2="44.30" y2="558.30" stroke="#111" stroke-width="1.2" />
<text x="37.60" y="560.50" font-size="6.3" text-anchor="end" >0.000</text>
<line x1="41.60" y1="529.70" x2="44.30" y2="529.70" stroke="#111" stroke-width="1.2" />
<text x="37.60" y="531.90" font-size="6.3" text-anchor="end" >0.005</text>
<line x1="41.60" y1="501.10" x2="44.30" y2="501.10" stroke="#111" stroke-width="1.2" />
<text x="37.60" y="503.30" font-size="6.3" text-anchor="end" >0.010</text>
<line x1="41.60" y1="472.50" x2="44.30" y2="472.50" stroke="#111" stroke-width="1.2" />
<text x="37.60" y="474.70" font-size="6.3" text-anchor="end" >0.015</text>
<line x1="57.70" y1="558.30" x2="57.70" y2="561.10" stroke="#111" stroke-width="1.1" />
<text x="57.70" y="570.20" font-size="6.4" text-anchor="middle" >D0</text>
<line x1="83.20" y1="558.30" x2="83.20" y2="561.10" stroke="#111" stroke-width="1.1" />
<text x="83.20" y="570.20" font-size="6.4" text-anchor="middle" >D5</text>
<line x1="108.40" y1="558.30" x2="108.40" y2="561.10" stroke="#111" stroke-width="1.1" />
<text x="108.40" y="570.20" font-size="6.4" text-anchor="middle" >D8</text>
<line x1="134.30" y1="558.30" x2="134.30" y2="561.10" stroke="#111" stroke-width="1.1" />
<text x="134.30" y="570.20" font-size="6.4" text-anchor="middle" >D11</text>
<line x1="160.00" y1="558.30" x2="160.00" y2="561.10" stroke="#111" stroke-width="1.1" />
<text x="160.00" y="570.20" font-size="6.4" text-anchor="middle" >D14</text>
<text x="0.00" y="0.00" font-size="7.8" text-anchor="middle" transform="translate(15.1,513.9) rotate(-90)">Relative to <tspan font-family="Liberation Serif" font-style="italic">β</tspan>-<tspan font-style="italic">ACTIN</tspan></text>
<text x="109.20" y="465.00" font-size="8.0" text-anchor="middle" font-weight="bold" font-style="italic" >NOTCH4</text>
<polyline points="57.7,555.5 83.2,543.5 108.4,541.3 134.3,544.0 160.0,549.7" fill="none" stroke="#2a4872" stroke-width="1.6"/>
<circle cx="57.7" cy="555.5" r="2.1" fill="#2a4872"/>
<path d="M81.2 537.9 H85.2 M83.2 537.9 V548.2 M81.2 548.2 H85.2" stroke="#2a4872" stroke-width="1" fill="none"/>
<circle cx="83.2" cy="543.5" r="2.1" fill="#2a4872"/>
<path d="M106.4 538.0 H110.4 M108.4 538.0 V545.0 M106.4 545.0 H110.4" stroke="#2a4872" stroke-width="1" fill="none"/>
<circle cx="108.4" cy="541.3" r="2.1" fill="#2a4872"/>
<circle cx="134.3" cy="544.0" r="2.1" fill="#2a4872"/>
<circle cx="160.0" cy="549.7" r="2.1" fill="#2a4872"/>
<polyline points="57.7,555.2 83.2,543.2 108.4,538.4 134.3,501.2 160.0,492.3" fill="none" stroke="#a60c34" stroke-width="1.8"/>
<rect x="55.30" y="552.80" width="4.80" height="4.80" fill="#a60c34" />
<path d="M81.0 535.6 H85.4 M83.2 535.6 V551.2 M81.0 551.2 H85.4" stroke="#a60c34" stroke-width="1.1" fill="none"/>
<rect x="80.80" y="540.80" width="4.80" height="4.80" fill="#a60c34" />
<path d="M106.2 536.0 H110.60000000000001 M108.4 536.0 V545.0 M106.2 545.0 H110.60000000000001" stroke="#a60c34" stroke-width="1.1" fill="none"/>
<rect x="106.00" y="536.00" width="4.80" height="4.80" fill="#a60c34" />
<path d="M132.10000000000002 494.5 H136.5 M134.3 494.5 V508.9 M132.10000000000002 508.9 H136.5" stroke="#a60c34" stroke-width="1.1" fill="none"/>
<rect x="131.90" y="498.80" width="4.80" height="4.80" fill="#a60c34" />
<path d="M157.8 487.5 H162.2 M160.0 487.5 V496.9 M157.8 496.9 H162.2" stroke="#a60c34" stroke-width="1.1" fill="none"/>
<rect x="157.60" y="489.90" width="4.80" height="4.80" fill="#a60c34" />
<text x="134.30" y="493.60" font-size="7.4" text-anchor="middle" font-weight="bold" >**</text>
<text x="160.00" y="485.20" font-size="7.4" text-anchor="middle" font-weight="bold" >***</text>
<line x1="160.60" y1="458.50" x2="169.80" y2="458.50" stroke="#2a4872" stroke-width="1.4" />
<circle cx="165.2" cy="458.5" r="2.0" fill="#2a4872"/>
<line x1="160.60" y1="468.10" x2="169.80" y2="468.10" stroke="#a60c34" stroke-width="1.6" />
<rect x="162.90" y="465.80" width="4.60" height="4.60" fill="#a60c34" />
<text x="172.70" y="460.80" font-size="6.6" >WT</text>
<text x="172.70" y="470.40" font-size="6.6" ><tspan font-style="italic">NOTCH4</tspan> intron 29 KO</text>
<line x1="290.60" y1="455.60" x2="290.60" y2="558.00" stroke="#111" stroke-width="1.4" />
<line x1="290.00" y1="557.30" x2="440.40" y2="557.30" stroke="#111" stroke-width="1.2" />
<line x1="287.50" y1="557.30" x2="290.60" y2="557.30" stroke="#111" stroke-width="1.2" />
<text x="283.80" y="559.50" font-size="6.3" text-anchor="end" >0.0</text>
<line x1="287.50" y1="532.65" x2="290.60" y2="532.65" stroke="#111" stroke-width="1.2" />
<text x="283.80" y="534.85" font-size="6.3" text-anchor="end" >0.1</text>
<line x1="287.50" y1="508.00" x2="290.60" y2="508.00" stroke="#111" stroke-width="1.2" />
<text x="283.80" y="510.20" font-size="6.3" text-anchor="end" >0.2</text>
<line x1="287.50" y1="483.35" x2="290.60" y2="483.35" stroke="#111" stroke-width="1.2" />
<text x="283.80" y="485.55" font-size="6.3" text-anchor="end" >0.3</text>
<line x1="287.50" y1="458.70" x2="290.60" y2="458.70" stroke="#111" stroke-width="1.2" />
<text x="283.80" y="460.90" font-size="6.3" text-anchor="end" >0.4</text>
<line x1="316.20" y1="557.30" x2="316.20" y2="560.30" stroke="#111" stroke-width="1.1" />
<text x="316.20" y="569.80" font-size="6.6" text-anchor="middle" >HSPCs</text>
<line x1="366.00" y1="557.30" x2="366.00" y2="560.30" stroke="#111" stroke-width="1.1" />
<text x="366.00" y="569.80" font-size="6.6" text-anchor="middle" >MKPs</text>
<line x1="415.70" y1="557.30" x2="415.70" y2="560.30" stroke="#111" stroke-width="1.1" />
<text x="415.70" y="569.80" font-size="6.6" text-anchor="middle" >MKs</text>
<line x1="306.40" y1="490.99" x2="306.40" y2="470.78" stroke="#2a2a2a" stroke-width="1.2" />
<line x1="303.40" y1="470.78" x2="309.40" y2="470.78" stroke="#2a2a2a" stroke-width="1.2" />
<rect x="299.55" y="491.34" width="13.70" height="65.61" fill="#2d4f8c" stroke="#1f3762" stroke-width="0.7"/>
<line x1="325.30" y1="541.28" x2="325.30" y2="536.35" stroke="#2a2a2a" stroke-width="1.2" />
<line x1="322.30" y1="536.35" x2="328.30" y2="536.35" stroke="#2a2a2a" stroke-width="1.2" />
<rect x="318.45" y="541.63" width="13.70" height="15.32" fill="#bb062e" stroke="#820420" stroke-width="0.7"/>
<line x1="356.40" y1="518.60" x2="356.40" y2="518.11" stroke="#2a2a2a" stroke-width="1.2" />
<line x1="353.40" y1="518.11" x2="359.40" y2="518.11" stroke="#2a2a2a" stroke-width="1.2" />
<rect x="349.55" y="518.95" width="13.70" height="38.00" fill="#2d4f8c" stroke="#1f3762" stroke-width="0.7"/>
<line x1="375.30" y1="538.32" x2="375.30" y2="534.87" stroke="#2a2a2a" stroke-width="1.2" />
<line x1="372.30" y1="534.87" x2="378.30" y2="534.87" stroke="#2a2a2a" stroke-width="1.2" />
<rect x="368.45" y="538.67" width="13.70" height="18.28" fill="#bb062e" stroke="#820420" stroke-width="0.7"/>
<line x1="406.40" y1="530.68" x2="406.40" y2="528.46" stroke="#2a2a2a" stroke-width="1.2" />
<line x1="403.40" y1="528.46" x2="409.40" y2="528.46" stroke="#2a2a2a" stroke-width="1.2" />
<rect x="399.55" y="531.03" width="13.70" height="25.92" fill="#2d4f8c" stroke="#1f3762" stroke-width="0.7"/>
<line x1="425.30" y1="544.97" x2="425.30" y2="544.48" stroke="#2a2a2a" stroke-width="1.2" />
<line x1="422.30" y1="544.48" x2="428.30" y2="544.48" stroke="#2a2a2a" stroke-width="1.2" />
<rect x="418.45" y="545.32" width="13.70" height="11.62" fill="#bb062e" stroke="#820420" stroke-width="0.7"/>
<path d="M306.50 458.20 V464.80 M306.50 461.50 H323.80 M323.80 458.20 V464.80" fill="none" stroke="#111" stroke-width="1.25"/>
<text x="315.15" y="460.30" font-size="7.0" text-anchor="middle" font-weight="bold" >*</text>
<path d="M356.40 506.20 V512.80 M356.40 509.50 H374.40 M374.40 506.20 V512.80" fill="none" stroke="#111" stroke-width="1.25"/>
<text x="365.40" y="507.80" font-size="7.0" text-anchor="middle" font-weight="bold" >*</text>
<path d="M406.70 516.20 V522.80 M406.70 519.50 H424.70 M424.70 516.20 V522.80" fill="none" stroke="#111" stroke-width="1.25"/>
<text x="415.70" y="517.80" font-size="7.0" text-anchor="middle" font-weight="bold" >*</text>
<text x="0.00" y="0.00" font-size="7.6" text-anchor="middle" transform="translate(269.7,507.0) rotate(-90)">Cell number (× 10<tspan font-size="4.6" dy="-2.8">6</tspan><tspan dy="2.8">)</tspan></text>
<rect x="417.60" y="461.80" width="12.10" height="5.20" fill="#2d4f8c" stroke="#1f3762" stroke-width="0.6"/>
<rect x="417.60" y="471.10" width="12.10" height="5.20" fill="#bb062e" stroke="#820420" stroke-width="0.6"/>
<text x="433.50" y="466.60" font-size="6.5" >WT</text>
<text x="433.50" y="476.00" font-size="6.5" ><tspan font-style="italic">NOTCH4</tspan> intron 29 KO</text>
<rect x="0.75" y="0.75" width="518.5" height="577.5" fill="none" stroke="#000" stroke-width="1.5"/>
</svg>
</body></html>
